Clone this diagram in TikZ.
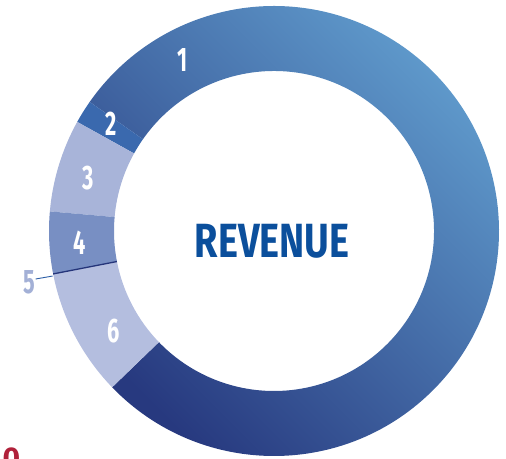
\documentclass[tikz,border=0pt]{standalone}
\usepackage{fontspec}
\setmainfont{Fira Sans}
\definecolor{ringdark}{HTML}{27397F}
\definecolor{ringlight}{HTML}{619DCE}
\definecolor{slicetwo}{HTML}{3A69AE}
\definecolor{slicethree}{HTML}{A8B4D9}
\definecolor{slicefour}{HTML}{788FC3}
\definecolor{slicefive}{HTML}{25357A}
\definecolor{slicesix}{HTML}{B4BEDF}
\definecolor{fivetext}{HTML}{A3B0D6}
\definecolor{leader}{HTML}{2A5CA5}
\definecolor{titleblue}{HTML}{0B4F9C}
\definecolor{cutred}{HTML}{B0203A}
\begin{document}
\begin{tikzpicture}[x=1pt,y=1pt,
    slice label/.style={text=white,inner sep=1pt,font=\bfseries\fontsize{34}{34}\selectfont,xscale=0.64},
    title node/.style={text=titleblue,font=\bfseries\fontsize{48}{48}\selectfont,xscale=0.79}]
    \useasboundingbox (0,0) rectangle (506,458);
    \clip (0,0) rectangle (506,458);
    \coordinate (o) at (274,227);

    % slices, outer radius 225, inner radius 160
    \shade[top color=ringlight,bottom color=ringdark,shading angle=-45]
        ([shift={(-136:225)}]o) arc[start angle=-136,end angle=145,radius=225]
        -- ([shift={(145:160)}]o) arc[start angle=145,end angle=-136,radius=160] -- cycle;
    \fill[slicetwo] ([shift={(145:225)}]o) arc[start angle=145,end angle=151,radius=225]
        -- ([shift={(151:160)}]o) arc[start angle=151,end angle=145,radius=160] -- cycle;
    \fill[slicethree] ([shift={(151:225)}]o) arc[start angle=151,end angle=175,radius=225]
        -- ([shift={(175:160)}]o) arc[start angle=175,end angle=151,radius=160] -- cycle;
    \fill[slicefour] ([shift={(175:225)}]o) arc[start angle=175,end angle=191,radius=225]
        -- ([shift={(191:160)}]o) arc[start angle=191,end angle=175,radius=160] -- cycle;
    \fill[slicesix] ([shift={(191:225)}]o) arc[start angle=191,end angle=224,radius=225]
        -- ([shift={(224:160)}]o) arc[start angle=224,end angle=191,radius=160] -- cycle;
    \draw[slicefive,line width=1.3pt] ([shift={(191:160)}]o) -- ([shift={(191:225)}]o);
    \coordinate (c5) at ([shift={(191.5:226)}]o);

    \node[slice label] at (183,398) (n1) {1};
    \node[slice label] at (111,334) (n2) {2};
    \node[slice label] at (88,280) (n3) {3};
    \node[slice label] at (80,215) (n4) {4};
    \node[slice label,text=fivetext] at (29,176) (n5) {5};
    \node[slice label] at (114,127) (n6) {6};
    \node[title node] at (272,217) (t) {REVENUE};
    \node[text=cutred,inner sep=0pt,anchor=north,font=\bfseries\fontsize{30}{30}\selectfont] at (11.5,10) (r) {0};

    \path[draw=leader,line width=0.9pt] ([yshift=3pt]n5.east) -- (c5);
\end{tikzpicture}
\end{document}
